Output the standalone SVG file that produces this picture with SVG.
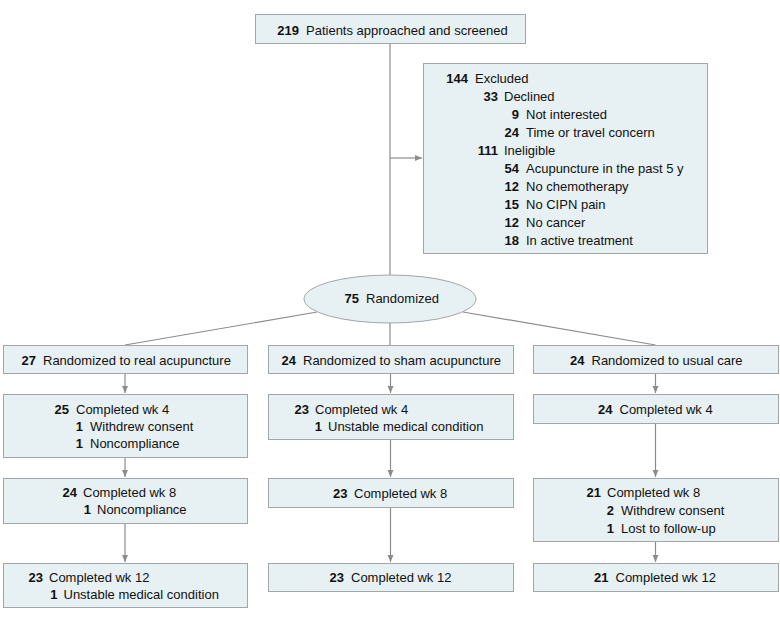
<svg xmlns="http://www.w3.org/2000/svg" width="780" height="620" viewBox="0 0 780 620">
<style>
  .box { fill: #e7f0f2; stroke: #a2a6a8; stroke-width: 1; }
  .conn { stroke: #8c8c8c; stroke-width: 1.2; fill: none; }
  text { font-family: "Liberation Sans", Arial, sans-serif; font-size: 13px; fill: #111; }
  .n { font-weight: 700; text-anchor: end; }
</style>
<defs>
  <marker id="ah" markerUnits="userSpaceOnUse" markerWidth="8" markerHeight="7" refX="7" refY="3" orient="auto">
    <path d="M0,0 L7,3 L0,6 z" fill="#8c8c8c"/>
  </marker>
</defs>
<rect width="780" height="620" fill="#ffffff"/>

<g id="connectors">
  <line class="conn" x1="390" y1="43" x2="390" y2="275"/>
  <line class="conn" x1="390" y1="158" x2="422" y2="158" marker-end="url(#ah)"/>
  <line class="conn" x1="317" y1="312" x2="125" y2="345"/>
  <line class="conn" x1="390" y1="323" x2="390" y2="345"/>
  <line class="conn" x1="463" y1="312" x2="655.5" y2="345"/>
  <line class="conn" x1="125" y1="373" x2="125" y2="393" marker-end="url(#ah)"/>
  <line class="conn" x1="125" y1="457" x2="125" y2="477" marker-end="url(#ah)"/>
  <line class="conn" x1="125" y1="523" x2="125" y2="562" marker-end="url(#ah)"/>
  <line class="conn" x1="390.5" y1="373" x2="390.5" y2="393" marker-end="url(#ah)"/>
  <line class="conn" x1="390.5" y1="439" x2="390.5" y2="477" marker-end="url(#ah)"/>
  <line class="conn" x1="390.5" y1="507" x2="390.5" y2="562" marker-end="url(#ah)"/>
  <line class="conn" x1="655.5" y1="373" x2="655.5" y2="393" marker-end="url(#ah)"/>
  <line class="conn" x1="655.5" y1="423" x2="655.5" y2="477" marker-end="url(#ah)"/>
  <line class="conn" x1="655.5" y1="541" x2="655.5" y2="562" marker-end="url(#ah)"/>
</g>

<g id="screened">
  <rect class="box" x="255.5" y="14.5" width="270" height="29"/>
  <text class="n" x="299" y="35">219</text>
  <text x="306" y="35">Patients approached and screened</text>
</g>

<g id="excluded">
  <rect class="box" x="423.5" y="63.5" width="284" height="190"/>
  <text class="n" x="468" y="83">144</text><text x="475" y="83">Excluded</text>
  <text class="n" x="498" y="101">33</text><text x="504" y="101">Declined</text>
  <text class="n" x="519" y="119">9</text><text x="526" y="119">Not interested</text>
  <text class="n" x="519" y="137">24</text><text x="526" y="137">Time or travel concern</text>
  <text class="n" x="498" y="155">111</text><text x="504" y="155">Ineligible</text>
  <text class="n" x="519" y="173">54</text><text x="526" y="173">Acupuncture in the past 5 y</text>
  <text class="n" x="519" y="191">12</text><text x="526" y="191">No chemotherapy</text>
  <text class="n" x="519" y="209">15</text><text x="526" y="209">No CIPN pain</text>
  <text class="n" x="519" y="227">12</text><text x="526" y="227">No cancer</text>
  <text class="n" x="519" y="245">18</text><text x="526" y="245">In active treatment</text>
</g>

<g id="randomized">
  <ellipse class="box" cx="390" cy="299" rx="86" ry="24"/>
  <text class="n" x="359" y="303">75</text>
  <text x="366" y="303">Randomized</text>
</g>

<g id="real-randomized">
  <rect class="box" x="3.5" y="345.5" width="244" height="28"/>
  <text class="n" x="36" y="365">27</text><text x="43" y="365">Randomized to real acupuncture</text>
</g>
<g id="sham-randomized">
  <rect class="box" x="268.5" y="345.5" width="245" height="28"/>
  <text class="n" x="296" y="365">24</text><text x="303" y="365">Randomized to sham acupuncture</text>
</g>
<g id="usual-randomized">
  <rect class="box" x="533.5" y="345.5" width="245" height="28"/>
  <text class="n" x="584.5" y="365">24</text><text x="591.5" y="365">Randomized to usual care</text>
</g>

<g id="real-wk4">
  <rect class="box" x="3.5" y="394.5" width="244" height="63"/>
  <text class="n" x="69" y="414">25</text><text x="76" y="414">Completed wk 4</text>
  <text class="n" x="83" y="431">1</text><text x="90" y="431">Withdrew consent</text>
  <text class="n" x="83" y="448">1</text><text x="90" y="448">Noncompliance</text>
</g>
<g id="sham-wk4">
  <rect class="box" x="268.5" y="394.5" width="245" height="45"/>
  <text class="n" x="309" y="414">23</text><text x="315" y="414">Completed wk 4</text>
  <text class="n" x="322" y="431">1</text><text x="328" y="431">Unstable medical condition</text>
</g>
<g id="usual-wk4">
  <rect class="box" x="533.5" y="394.5" width="245" height="29"/>
  <text class="n" x="612.5" y="414">24</text><text x="619.5" y="414">Completed wk 4</text>
</g>

<g id="real-wk8">
  <rect class="box" x="3.5" y="478.5" width="244" height="45"/>
  <text class="n" x="77" y="497">24</text><text x="83" y="497">Completed wk 8</text>
  <text class="n" x="91" y="514">1</text><text x="97" y="514">Noncompliance</text>
</g>
<g id="sham-wk8">
  <rect class="box" x="268.5" y="478.5" width="245" height="29"/>
  <text class="n" x="347.5" y="498">23</text><text x="354" y="498">Completed wk 8</text>
</g>
<g id="usual-wk8">
  <rect class="box" x="533.5" y="478.5" width="245" height="63"/>
  <text class="n" x="601" y="497">21</text><text x="607" y="497">Completed wk 8</text>
  <text class="n" x="614" y="515">2</text><text x="621" y="515">Withdrew consent</text>
  <text class="n" x="614" y="533">1</text><text x="621" y="533">Lost to follow-up</text>
</g>

<g id="real-wk12">
  <rect class="box" x="3.5" y="563.5" width="244" height="44"/>
  <text class="n" x="43" y="582">23</text><text x="49" y="582">Completed wk 12</text>
  <text class="n" x="57.5" y="599">1</text><text x="63.5" y="599">Unstable medical condition</text>
</g>
<g id="sham-wk12">
  <rect class="box" x="268.5" y="563.5" width="245" height="28"/>
  <text class="n" x="344" y="582">23</text><text x="351" y="582">Completed wk 12</text>
</g>
<g id="usual-wk12">
  <rect class="box" x="533.5" y="563.5" width="245" height="28"/>
  <text class="n" x="608.5" y="582">21</text><text x="615.5" y="582">Completed wk 12</text>
</g>
</svg>
